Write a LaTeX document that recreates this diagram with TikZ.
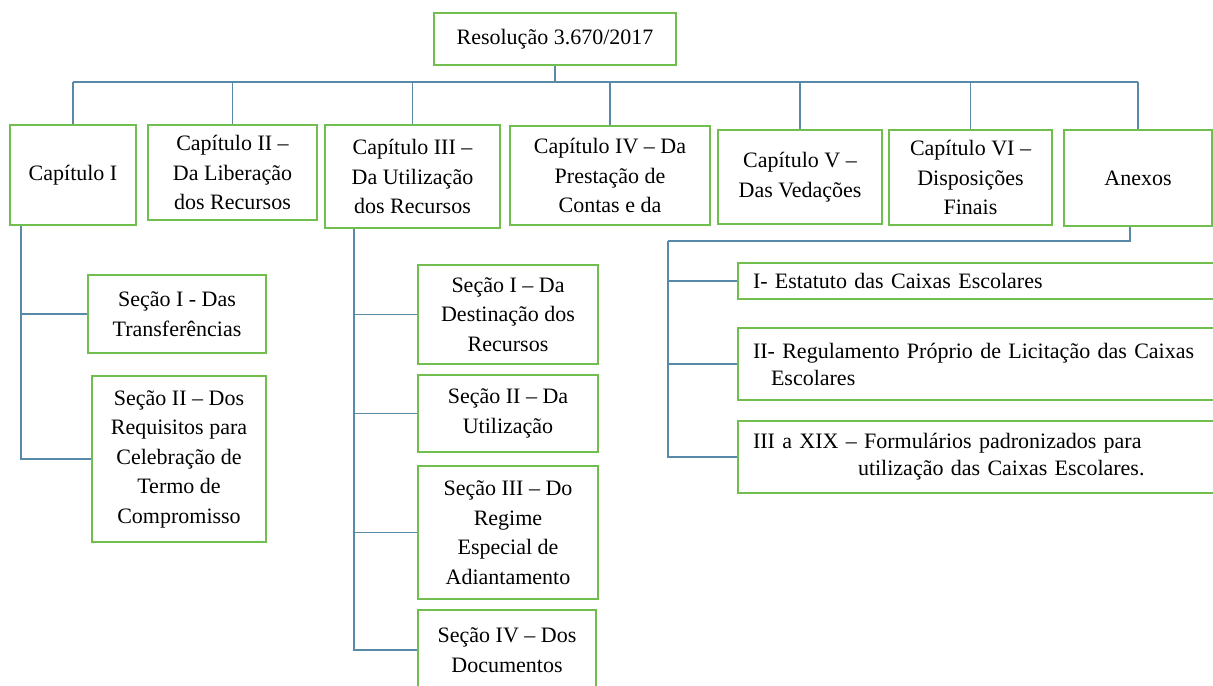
\documentclass[tikz,border=0pt]{standalone}
\usepackage{fontspec}
\setmainfont{Liberation Serif}
\usepackage{tikz}
\definecolor{verdeborda}{RGB}{112,190,78}
\definecolor{azullinha}{RGB}{88,138,168}
\tikzstyle{bloco}=[draw=verdeborda, line width=1.3pt, fill=white, align=center,
  inner sep=2pt, font=\fontsize{11}{14.75}\selectfont]
\tikzstyle{anexo}=[bloco, align=left, inner xsep=7.5pt, text width=228.5pt,
  font=\fontsize{11}{13.5}\selectfont]
\tikzstyle{linha}=[draw, line width=0.8pt, color=azullinha]
\newcommand{\caixa}[4]{node (#1) [bloco, minimum width=#2, minimum height=#3]
  {#4}}
\newcommand{\caixaanexo}[3]{node (#1) [anexo, minimum height=#2] {#3}}

\begin{document}
\begin{tikzpicture}[x=0.5pt,y=-0.5pt]
  \clip (0,0) rectangle (1213,685);

  % Draw diagram elements
  % resolution and chapters
  \path (555,39) \caixa{res}{121pt}{26pt}{Resolução 3.670/2017};
  \path (73,175) \caixa{cap1}{63pt}{50pt}{Capítulo I};
  \path (232.5,172.5) \caixa{cap2}{84.5pt}{47.5pt}{Capítulo II –\\Da Liberação\\dos Recursos};
  \path (412.5,176.5) \caixa{cap3}{87.5pt}{51.5pt}{Capítulo III –\\Da Utilização\\dos Recursos};
  \path (610,175.5) \caixa{cap4}{100pt}{49.5pt}{Capítulo IV – Da\\Prestação de\\Contas e da};
  \path (800,177) \caixa{cap5}{82pt}{47pt}{Capítulo V –\\Das Vedações};
  \path (970.5,177.5) \caixa{cap6}{81.5pt}{47.5pt}{Capítulo VI –\\Disposições\\Finais};
  \path (1138,178) \caixa{anexos}{74pt}{48pt}{Anexos};

  % sections of chapter I
  \path (177,314) \caixa{sec1a}{89pt}{39pt}{Seção I - Das\\Transferências};
  \path (179,459) \caixa{sec1b}{87pt}{83pt}{Seção II – Dos\\Requisitos para\\Celebração de\\Termo de\\Compromisso};

  % sections of chapter III
  \path (508,314.5) \caixa{sec3a}{90pt}{49.5pt}{Seção I – Da\\Destinação dos\\Recursos};
  \path (508,413.5) \caixa{sec3b}{90pt}{38.5pt}{Seção II – Da\\Utilização};
  \path (508,532.5) \caixa{sec3c}{90pt}{66.5pt}{Seção III – Do\\Regime\\Especial de\\Adiantamento};
  \path (507,650) \caixa{sec3d}{89pt}{40pt}{Seção IV – Dos\\Documentos};

  % annexes
  \path (981.5,281) \caixaanexo{anx1}{18pt}{I- Estatuto das Caixas Escolares};
  \path (981.5,364) \caixaanexo{anx2}{36pt}{II- Regulamento Próprio de Licitação das Caixas\\\hspace*{9pt}Escolares};
  \path (981.5,457) \caixaanexo{anx3}{36pt}{III a XIX – Formulários padronizados para\\\hspace*{52.5pt}utilização das Caixas Escolares.};

  % Draw connectors
  \coordinate (bus) at (0,82);
  \coordinate (anxbus) at (668,241);
  \path [linha] (res.south) -- (res.south |- bus);
  \path [linha] (cap1.north |- bus) -- (anexos.north |- bus);
  \foreach \c in {cap1,cap2,cap3,cap4,cap5,cap6,anexos}
    \path [linha] (\c.north) -- (\c.north |- bus);

  % chapter I block
  \foreach \s in {sec1a,sec1b}
    \path [linha] ([xshift=6pt]cap1.south west) |- (\s.west);

  % chapter III block
  \foreach \s in {sec3a,sec3b,sec3c,sec3d}
    \path [linha] ([xshift=15pt]cap3.south west) |- (\s.west);

  % annexes block
  \path [linha] ([xshift=-4pt]anexos.south) |- (anxbus);
  \foreach \s in {anx1,anx2,anx3}
    \path [linha] (anxbus) |- (\s.west);

\end{tikzpicture}
\end{document}
